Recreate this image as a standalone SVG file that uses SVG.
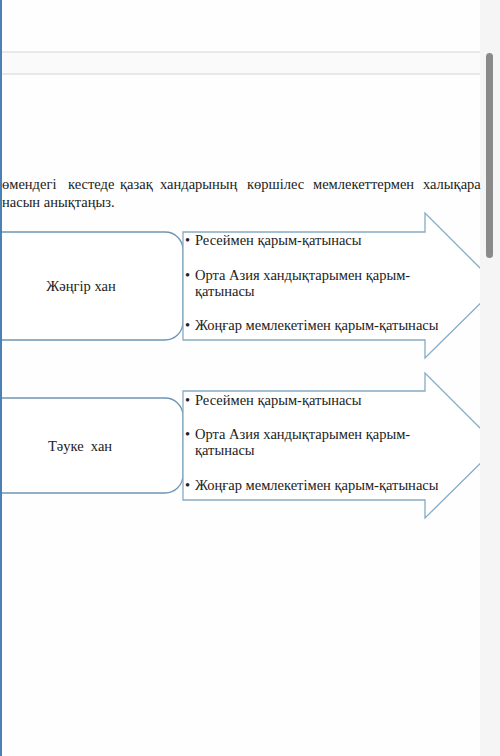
<svg xmlns="http://www.w3.org/2000/svg" width="500" height="756" viewBox="0 0 500 756">
<style>
.t{font-family:"Liberation Serif","DejaVu Serif",serif;font-size:14.5px;fill:#222}
.rr{fill:#fff;stroke:#6f95b6;stroke-width:1.3}
.ar{fill:#fff;stroke:#86abc4;stroke-width:1.3}
</style>
<rect width="500" height="756" fill="#fefefe"/>
<rect x="2" y="52" width="478" height="22" fill="#fafafa"/>
<line x1="2" y1="52" x2="480" y2="52" stroke="#e2e2e2" stroke-width="1.5"/>
<line x1="2" y1="74" x2="480" y2="74" stroke="#e2e2e2" stroke-width="1.5"/>
<g id="node-zhangir">
<rect class="rr" x="-20" y="232" width="203" height="108" rx="18"/>
<text class="t" x="81" y="291" text-anchor="middle">Жәңгір хан</text>
</g>
<g id="node-arrow1">
<path class="ar" d="M183,232 H425 V213 L498,286 L425,358 V340 H183 Z"/>
</g>
<g id="node-tauke">
<rect class="rr" x="-20" y="398" width="203" height="95" rx="18"/>
<text class="t" x="80" y="451" text-anchor="middle" xml:space="preserve">Тәуке  хан</text>
</g>
<g id="node-arrow2">
<path class="ar" d="M183,391 H425 V373 L498,446 L425,518 V500 H183 Z"/>
</g>
<g id="connectors"></g>
<rect x="480" y="0" width="20" height="756" fill="#f5f5f5"/>
<rect x="486" y="53" width="7" height="205" rx="3.5" fill="#8a8a8a"/>
<rect x="0" y="0" width="2" height="756" fill="#4a80b4"/>
<g id="heading">
<text class="t" y="189"><tspan x="2">өмендегі</tspan><tspan x="68">кестеде</tspan><tspan x="120">қазақ</tspan><tspan x="160">хандарының</tspan><tspan x="247">көршілес</tspan><tspan x="313">мемлекеттермен</tspan><tspan x="423">халықара</tspan></text>
<text class="t" x="2" y="207">насын анықтаңыз.</text>
</g>
<g id="list1">
<text class="t" x="185" y="245">•</text><text class="t" x="195" y="245">Ресеймен қарым-қатынасы</text>
<text class="t" x="185" y="279.5">•</text><text class="t"><tspan x="195" y="279.5">Орта Азия хандықтарымен қарым-</tspan><tspan x="195" y="296">қатынасы</tspan></text>
<text class="t" x="185" y="330">•</text><text class="t" x="195" y="330">Жоңғар мемлекетімен қарым-қатынасы</text>
</g>
<g id="list2">
<text class="t" x="185" y="405">•</text><text class="t" x="195" y="405">Ресеймен қарым-қатынасы</text>
<text class="t" x="185" y="438.5">•</text><text class="t"><tspan x="195" y="438.5">Орта Азия хандықтарымен қарым-</tspan><tspan x="195" y="455">қатынасы</tspan></text>
<text class="t" x="185" y="490">•</text><text class="t" x="195" y="490">Жоңғар мемлекетімен қарым-қатынасы</text>
</g>
</svg>
